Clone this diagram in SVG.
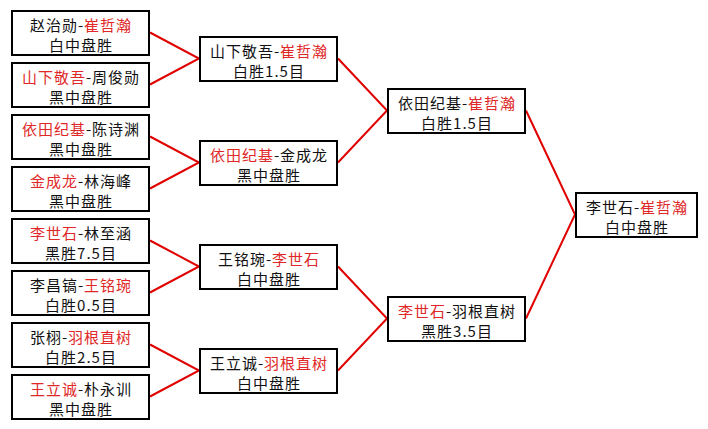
<svg xmlns="http://www.w3.org/2000/svg" width="708" height="429" viewBox="0 0 708 429">
<style>
.box{fill:#fff;stroke:#000;stroke-width:2}
.t{font-family:"Noto Sans CJK SC","Noto Sans",sans-serif;font-size:15px;letter-spacing:1px;fill:#111;text-anchor:middle}
.r{fill:#e02828}
.c{fill:none;stroke:#e00000;stroke-width:2}
</style>
<rect width="708" height="429" fill="#fff"/>
<g id="connectors">
<polyline class="c" points="150,32.5 199,58.5 150,84.5"/>
<polyline class="c" points="150,136.5 199,162.5 150,188.5"/>
<polyline class="c" points="150,240.5 199,266.5 150,292.5"/>
<polyline class="c" points="150,344.5 199,370.5 150,396.5"/>
<polyline class="c" points="338,58.5 387,110.5 338,162.5"/>
<polyline class="c" points="338,266.5 387,318.5 338,370.5"/>
<polyline class="c" points="526,110.5 575,214.5 526,318.5"/>
</g>
<g id="r1m1"><rect class="box" x="12" y="11" width="137" height="44"/><text class="t" x="81" y="31">赵治勋-<tspan class="r">崔哲瀚</tspan></text><text class="t" x="81" y="51">白中盘胜</text></g>
<g id="r1m2"><rect class="box" x="12" y="63" width="137" height="44"/><text class="t" x="81" y="83"><tspan class="r">山下敬吾</tspan>-周俊勋</text><text class="t" x="81" y="103">黑中盘胜</text></g>
<g id="r1m3"><rect class="box" x="12" y="115" width="137" height="44"/><text class="t" x="81" y="135"><tspan class="r">依田纪基</tspan>-陈诗渊</text><text class="t" x="81" y="155">黑中盘胜</text></g>
<g id="r1m4"><rect class="box" x="12" y="167" width="137" height="44"/><text class="t" x="81" y="187"><tspan class="r">金成龙</tspan>-林海峰</text><text class="t" x="81" y="207">黑中盘胜</text></g>
<g id="r1m5"><rect class="box" x="12" y="219" width="137" height="44"/><text class="t" x="81" y="239"><tspan class="r">李世石</tspan>-林至涵</text><text class="t" x="81" y="259">黑胜7.5目</text></g>
<g id="r1m6"><rect class="box" x="12" y="271" width="137" height="44"/><text class="t" x="81" y="291">李昌镐-<tspan class="r">王铭琬</tspan></text><text class="t" x="81" y="311">白胜0.5目</text></g>
<g id="r1m7"><rect class="box" x="12" y="323" width="137" height="44"/><text class="t" x="81" y="343">张栩-<tspan class="r">羽根直树</tspan></text><text class="t" x="81" y="363">白胜2.5目</text></g>
<g id="r1m8"><rect class="box" x="12" y="375" width="137" height="44"/><text class="t" x="81" y="395"><tspan class="r">王立诚</tspan>-朴永训</text><text class="t" x="81" y="415">黑中盘胜</text></g>
<g id="r2m1"><rect class="box" x="200" y="37" width="137" height="44"/><text class="t" x="269" y="57">山下敬吾-<tspan class="r">崔哲瀚</tspan></text><text class="t" x="269" y="77">白胜1.5目</text></g>
<g id="r2m2"><rect class="box" x="200" y="141" width="137" height="44"/><text class="t" x="269" y="161"><tspan class="r">依田纪基</tspan>-金成龙</text><text class="t" x="269" y="181">黑中盘胜</text></g>
<g id="r2m3"><rect class="box" x="200" y="245" width="137" height="44"/><text class="t" x="269" y="265">王铭琬-<tspan class="r">李世石</tspan></text><text class="t" x="269" y="285">白中盘胜</text></g>
<g id="r2m4"><rect class="box" x="200" y="349" width="137" height="44"/><text class="t" x="269" y="369">王立诚-<tspan class="r">羽根直树</tspan></text><text class="t" x="269" y="389">白中盘胜</text></g>
<g id="r3m1"><rect class="box" x="388" y="89" width="137" height="44"/><text class="t" x="457" y="109">依田纪基-<tspan class="r">崔哲瀚</tspan></text><text class="t" x="457" y="129">白胜1.5目</text></g>
<g id="r3m2"><rect class="box" x="388" y="297" width="137" height="44"/><text class="t" x="457" y="317"><tspan class="r">李世石</tspan>-羽根直树</text><text class="t" x="457" y="337">黑胜3.5目</text></g>
<g id="final"><rect class="box" x="576" y="193" width="121" height="44"/><text class="t" x="637" y="213">李世石-<tspan class="r">崔哲瀚</tspan></text><text class="t" x="637" y="233">白中盘胜</text></g>
</svg>
